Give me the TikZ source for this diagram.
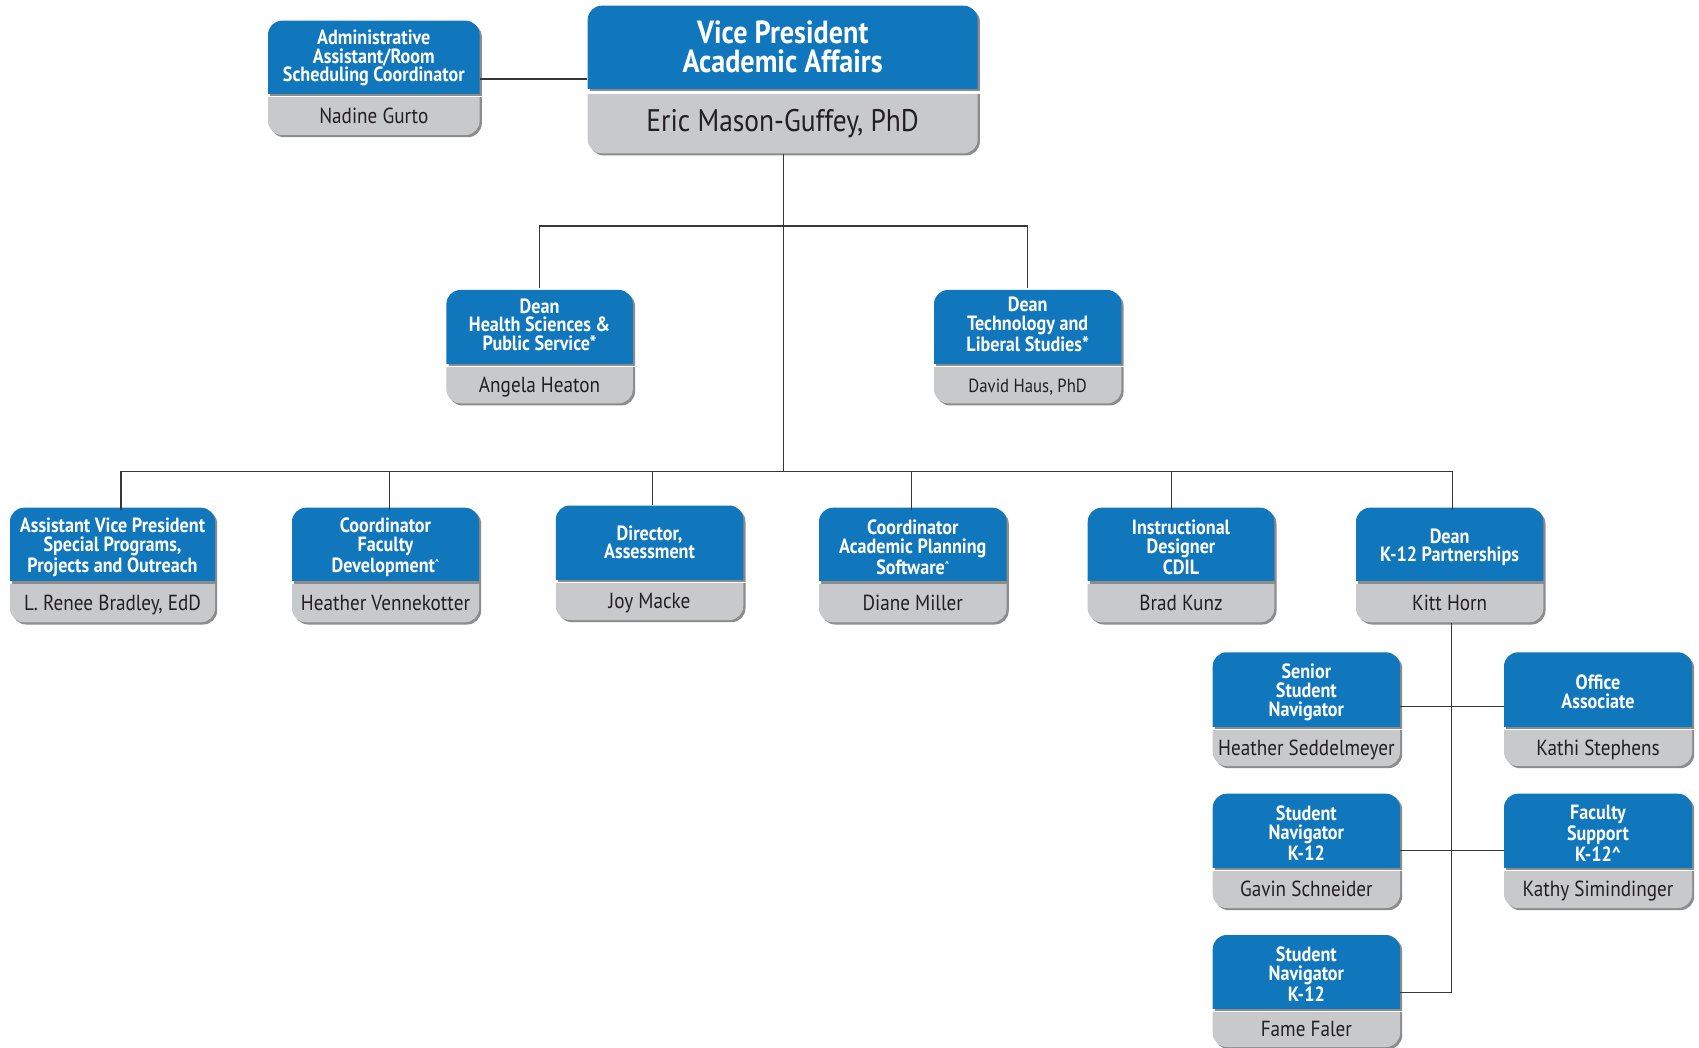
\documentclass[tikz,border=0pt]{standalone}
\usepackage{fontspec}
\setmainfont{PT Sans}[FakeStretch=0.88]
\usetikzlibrary{calc}
\definecolor{boxblue}{RGB}{17,119,189}
\definecolor{boxgray}{RGB}{200,201,203}
\definecolor{shadowgray}{RGB}{140,140,140}
\definecolor{nametext}{RGB}{35,31,32}
\definecolor{linegray}{RGB}{55,55,55}
\tikzset{
  titletext/.style={text=white, align=center, inner sep=0pt, yshift=-1.5pt, font=\fontsize{10.3}{9.4}\selectfont\bfseries},
  persontext/.style={text=nametext, inner sep=0pt, font=\fontsize{10.9}{12}\selectfont, text height=0.7em, text depth=0pt},
  conn/.style={draw=linegray, line width=0.65pt},
  boxshape/.style={rectangle, rounded corners=7pt, inner sep=0pt, outer sep=0pt, draw=none},
}
\newcommand\smallcaret{\raisebox{0.55ex}{\fontsize{5}{5}\selectfont\textasciicircum}}
% #1 name, #2 x1, #3 x2, #4 top, #5 blue bottom, #6 gray top, #7 bottom, #8 title, #9 person
\newcommand\orgbox[9]{%
  \begin{scope}
    \clip (#2,#4) rectangle (#3+5,#5+2.5);
    \node[boxshape, fill=shadowgray, anchor=north west, minimum width={(#3-#2)*0.5pt}, minimum height={(#5-#4+40)*0.5pt}] (#1sa) at (#2+2.2,#4+2.2) {};
  \end{scope}
  \begin{scope}
    \clip (#2-1,#4-1) rectangle (#3+1,#5);
    \node[boxshape, fill=boxblue, anchor=north west, minimum width={(#3-#2)*0.5pt}, minimum height={(#5-#4+40)*0.5pt}] (#1ba) at (#2,#4) {};
  \end{scope}
  \begin{scope}
    \clip (#2,#6) rectangle (#3+5,#7+5);
    \node[boxshape, fill=shadowgray, anchor=south west, minimum width={(#3-#2)*0.5pt}, minimum height={(#7-#6+40)*0.5pt}] (#1sb) at (#2+2.2,#7+2.2) {};
  \end{scope}
  \begin{scope}
    \clip (#2-1,#6) rectangle (#3+1,#7+1);
    \node[boxshape, fill=boxgray, anchor=south west, minimum width={(#3-#2)*0.5pt}, minimum height={(#7-#6+40)*0.5pt}] (#1bb) at (#2,#7) {};
  \end{scope}
  \node[titletext, minimum width={(#3-#2)*0.5pt}, minimum height={(#5-#4)*0.5pt}] (#1) at ({(#2+#3)/2},{(#4+#5)/2}) {#8};
  \node[persontext, minimum width={(#3-#2)*0.5pt}, minimum height={(#7-#6)*0.5pt}] (#1n) at ({(#2+#3)/2},{(#6+#7)/2}) {#9};
}
\begin{document}
\begin{tikzpicture}[x=0.5pt,y=-0.5pt]
\fill[white] (0,0) rectangle (1699,1048);
\useasboundingbox (0,0) rectangle (1699,1048);

\coordinate (hubA) at (783.7,226);
\coordinate (hubB) at (783.7,471.7);
\coordinate (adm) at (480,79);
\coordinate (t1) at (121,471.7);
\coordinate (t2) at (389.3,471.7);
\coordinate (t3) at (652.3,471.7);
\coordinate (t4) at (911.2,471.7);
\coordinate (t5) at (1171.3,471.7);
\coordinate (t6) at (1452.3,471.7);
\coordinate (kv) at (1451.7,992.3);
\coordinate (r1) at (1451.7,706.3);
\coordinate (r2) at (1451.7,850.7);

\begin{scope}[titletext/.append style={yshift=1pt}]
\orgbox{admin}{268}{479.6}{20.7}{93.3}{97.3}{135}{Administrative\\Assistant/Room\\Scheduling Coordinator}{Nadine Gurto}
\end{scope}
\begin{scope}[titletext/.append style={yshift=1.5pt, font=\fontsize{16}{14.6}\selectfont\bfseries},
              persontext/.append style={font=\fontsize{15.6}{17}\selectfont}]
\orgbox{vp}{587.7}{977.7}{5.7}{88.3}{95}{153.3}{Vice President\\Academic Affairs}{Eric Mason-Guffey, PhD}
\end{scope}
\begin{scope}[titletext/.append style={yshift=2.5pt}]
\orgbox{dhs}{446.4}{632.8}{290}{363.3}{367.7}{403.3}{Dean\\Health Sciences \&\\Public Service*}{Angela Heaton}
\begin{scope}[persontext/.append style={font=\fontsize{9.5}{11}\selectfont}]
\orgbox{dtl}{934}{1121.4}{290}{363.3}{367.7}{403.3}{Dean\\Technology and\\Liberal Studies*}{David Haus, PhD}
\end{scope}
\end{scope}
\orgbox{avp}{10}{215}{507.7}{580.7}{584.3}{622.3}{Assistant Vice President\\Special Programs,\\Projects and Outreach}{L. Renee Bradley, EdD}
\orgbox{cfd}{292}{479}{507.7}{580.7}{584.3}{622.3}{Coordinator\\Faculty\\Development\smallcaret}{Heather Vennekotter}
\begin{scope}[titletext/.append style={yshift=1.5pt}]
\orgbox{dir}{555.8}{743.3}{505.5}{579}{583}{620}{Director,\\Assessment}{Joy Macke}
\end{scope}
\orgbox{cap}{819}{1006.6}{507.7}{580.7}{584.3}{622.3}{Coordinator\\Academic Planning\\Software\smallcaret}{Diane Miller}
\orgbox{idc}{1087.7}{1274.3}{507.7}{580.7}{584.3}{622.3}{Instructional\\Designer\\CDIL}{Brad Kunz}
\orgbox{k12}{1356}{1543.3}{507.7}{580.7}{584.3}{622.3}{Dean\\K-12 Partnerships}{Kitt Horn}
\orgbox{ssn}{1212.7}{1400}{652.3}{726}{730}{766}{Senior\\Student\\Navigator}{Heather Seddelmeyer}
\orgbox{off}{1504}{1692}{652.3}{726}{730}{766}{Office\\Associate}{Kathi Stephens}
\orgbox{sn1}{1212.7}{1400}{793.7}{867}{871}{908}{Student\\Navigator\\K-12}{Gavin Schneider}
\orgbox{fs}{1504}{1692}{793.7}{867}{871}{908}{Faculty\\Support\\K-12\textasciicircum}{Kathy Simindinger}
\orgbox{sn2}{1212.7}{1400}{935}{1008}{1012}{1047}{Student\\Navigator\\K-12}{Fame Faler}

\draw[conn] (admin.east |- adm) -- (vp.west |- adm);
\draw[conn] (vpn.south -| hubB) -- (hubB);
\draw[conn] (dhs.north) |- (hubA) -| (dtl.north);
\draw[conn] (avp.north -| t1) -- (t1) -- (t6) -- (k12.north -| t6);
\draw[conn] (cfd.north -| t2) -- (t2);
\draw[conn] (dir.north -| t3) -- (t3);
\draw[conn] (cap.north -| t4) -- (t4);
\draw[conn] (idc.north -| t5) -- (t5);
\draw[conn] (k12n.south -| kv) -- (kv) -- (sn2.east |- kv);
\draw[conn] (ssn.east |- r1) -- (off.west |- r1);
\draw[conn] (sn1.east |- r2) -- (fs.west |- r2);
\end{tikzpicture}
\end{document}
